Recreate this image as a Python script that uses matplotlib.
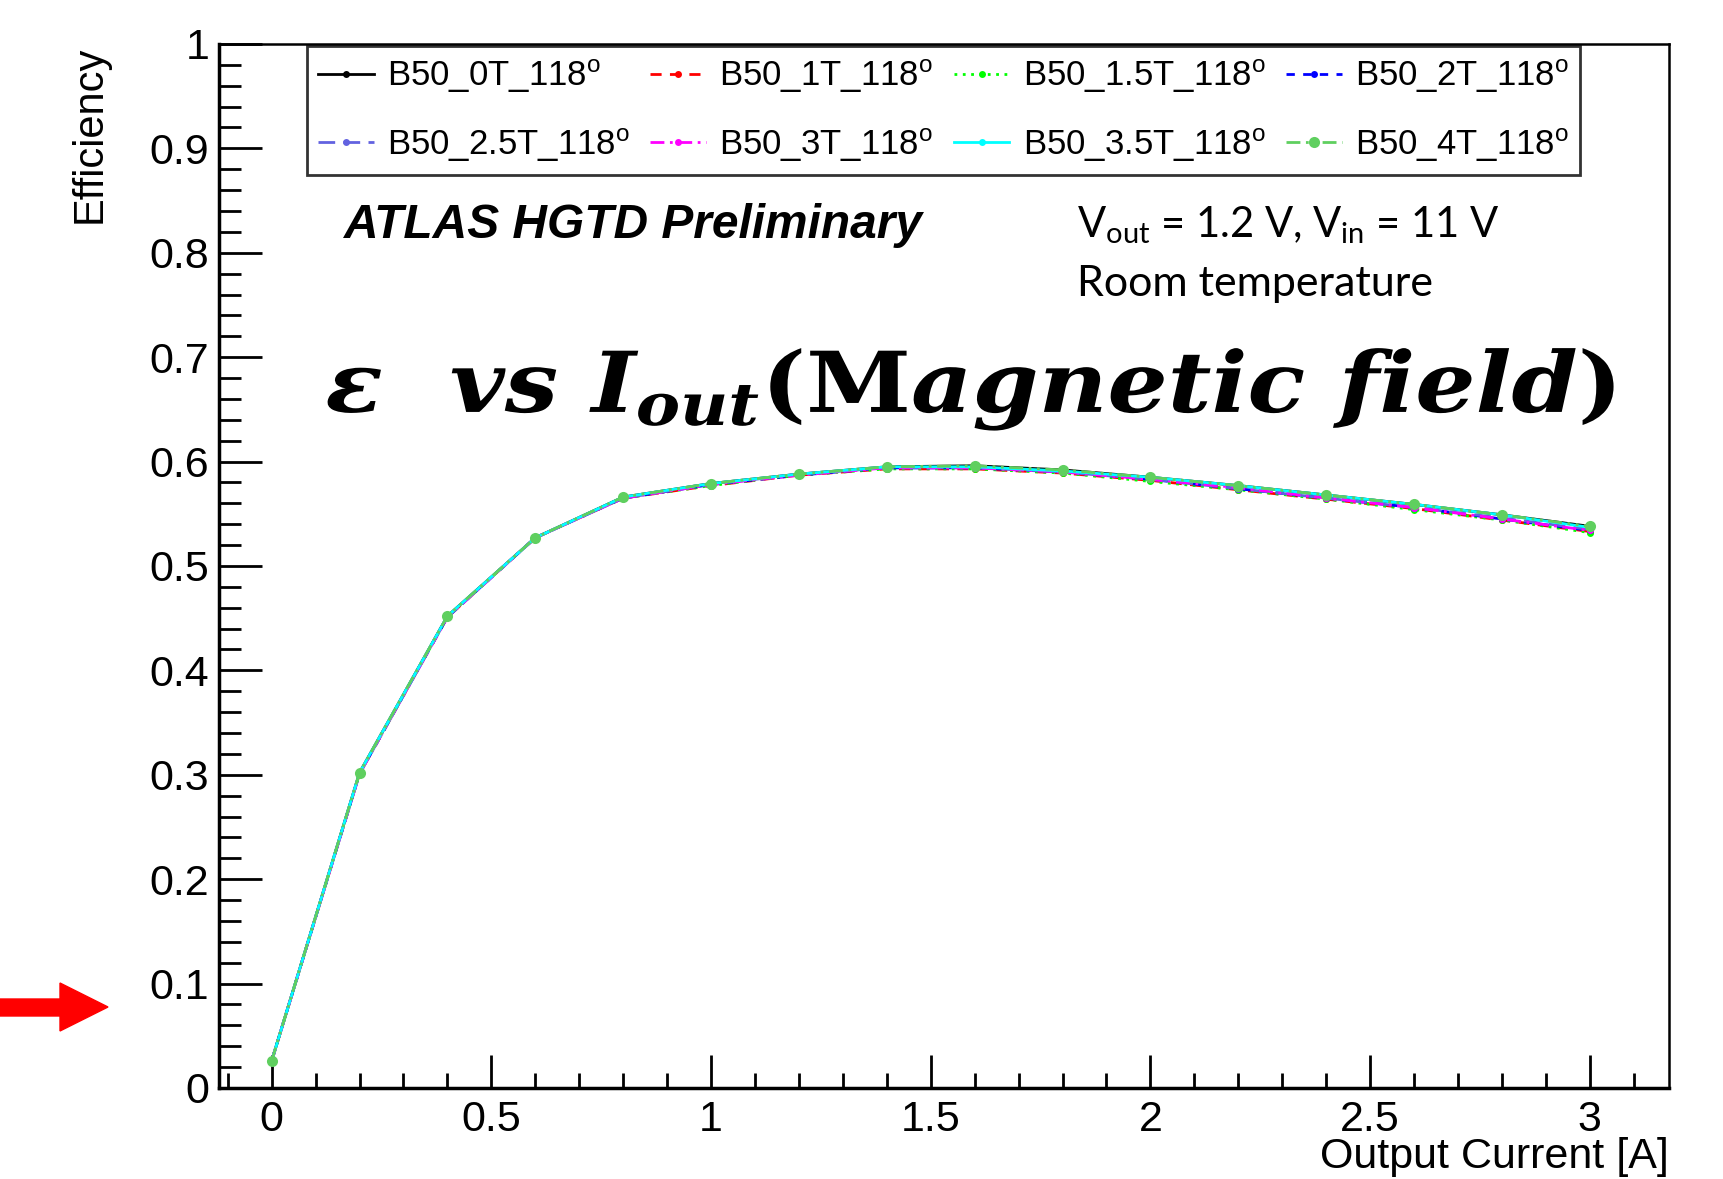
import numpy as np
import matplotlib
matplotlib.use("Agg")
import matplotlib.pyplot as plt
from matplotlib.patches import Polygon, PathPatch
from matplotlib.textpath import TextPath
from matplotlib.transforms import Affine2D
from matplotlib.ticker import MultipleLocator, FormatStrFormatter

plt.rcParams['font.family'] = ['Liberation Sans', 'DejaVu Sans']
plt.rcParams['mathtext.fontset'] = 'custom'
plt.rcParams['mathtext.rm'] = 'Lato'
plt.rcParams['mathtext.sf'] = 'Liberation Sans'
plt.rcParams['mathtext.it'] = 'DejaVu Serif:italic:bold'
plt.rcParams['mathtext.bf'] = 'DejaVu Serif:bold'

# output current [A]
current = [0.0, 0.2, 0.4, 0.6, 0.8, 1.0, 1.2, 1.4, 1.6, 1.8, 2.0, 2.2, 2.4, 2.6, 2.8, 3.0]

# efficiency per field setting
eff_0T = [0.026, 0.302, 0.452, 0.527, 0.566, 0.579, 0.588, 0.595, 0.596, 0.592, 0.585, 0.577, 0.568, 0.559, 0.549, 0.538]
eff_1T = [0.026, 0.301, 0.451, 0.527, 0.565, 0.577, 0.587, 0.593, 0.593, 0.589, 0.582, 0.573, 0.564, 0.555, 0.544, 0.533]
eff_15T = [0.026, 0.301, 0.451, 0.527, 0.565, 0.577, 0.587, 0.593, 0.593, 0.589, 0.581, 0.573, 0.564, 0.554, 0.544, 0.532]
eff_2T = [0.026, 0.301, 0.451, 0.527, 0.565, 0.578, 0.587, 0.594, 0.594, 0.590, 0.583, 0.574, 0.565, 0.556, 0.545, 0.534]
eff_25T = [0.026, 0.301, 0.451, 0.527, 0.565, 0.578, 0.588, 0.594, 0.594, 0.590, 0.583, 0.574, 0.565, 0.556, 0.546, 0.535]
eff_3T = [0.026, 0.301, 0.451, 0.527, 0.565, 0.578, 0.587, 0.594, 0.594, 0.590, 0.583, 0.575, 0.565, 0.556, 0.545, 0.534]
eff_35T = [0.026, 0.302, 0.452, 0.527, 0.566, 0.579, 0.588, 0.595, 0.595, 0.591, 0.585, 0.577, 0.568, 0.559, 0.549, 0.537]
eff_4T = [0.026, 0.302, 0.452, 0.527, 0.566, 0.579, 0.588, 0.595, 0.596, 0.592, 0.585, 0.577, 0.568, 0.559, 0.549, 0.538]

series = [
    ("B50_0T_118", eff_0T, "black", "-"),
    ("B50_1T_118", eff_1T, "#ff0000", (0, (4, 3))),
    ("B50_1.5T_118", eff_15T, "#00ff00", (0, (1, 2))),
    ("B50_2T_118", eff_2T, "#0000ff", (0, (3, 3))),
    ("B50_2.5T_118", eff_25T, "#6262e0", (0, (6, 3))),
    ("B50_3T_118", eff_3T, "#ff00ff", (0, (5, 2, 1, 2))),
    ("B50_3.5T_118", eff_35T, "#00ffff", "-"),
    ("B50_4T_118", eff_4T, "#5fcf5f", (0, (5, 2, 1, 2, 1, 2))),
]

fig = plt.figure(figsize=(17.24, 11.79), dpi=100)
ax = fig.add_axes([0.127, 0.0772, 0.841, 0.8855])

lines = []
for i, (name, vals, col, ls) in enumerate(series):
    ms = 8 if i == len(series) - 1 else 5
    ln, = ax.plot(current, vals, color=col, linestyle=ls, linewidth=2, marker='o',
                  markersize=ms, markeredgewidth=0, label=name + r'$^{\mathsf{o}}$')
    lines.append(ln)

ax.set_xlim(-0.12, 3.18)
ax.set_ylim(0, 1.0)
ax.xaxis.set_major_locator(MultipleLocator(0.5))
ax.xaxis.set_minor_locator(MultipleLocator(0.1))
ax.yaxis.set_major_locator(MultipleLocator(0.1))
ax.yaxis.set_minor_locator(MultipleLocator(0.02))
ax.xaxis.set_major_formatter(FormatStrFormatter('%g'))
ax.yaxis.set_major_formatter(FormatStrFormatter('%g'))
ax.tick_params(axis='x', which='major', direction='in', length=24, width=2, labelsize=31, pad=9, top=False)
ax.tick_params(axis='x', which='minor', direction='in', length=11, width=2, top=False)
ax.tick_params(axis='y', which='major', direction='in', length=31, width=2, labelsize=31, pad=7, right=False)
ax.tick_params(axis='y', which='minor', direction='in', length=16, width=2, right=False)
for side in ['left', 'bottom']:
    ax.spines[side].set_linewidth(2.5)
for side in ['top', 'right']:
    ax.spines[side].set_linewidth(1.8)

# legend filled row by row like the original
order = [0, 4, 1, 5, 2, 6, 3, 7]
leg = ax.legend([lines[k] for k in order], [lines[k].get_label() for k in order],
                loc='upper left', bbox_to_anchor=(0.0607, 0.998), borderaxespad=0,
                ncol=4, fontsize=25, frameon=True, fancybox=False, edgecolor='black',
                handlelength=1.6, handletextpad=0.38, columnspacing=0.6,
                borderpad=0.32, labelspacing=0.9)
leg.get_frame().set_linewidth(2)

fig.text(0.052, 0.961, 'Efficiency', rotation=90, ha='center', va='top', fontsize=30)
fig.text(0.968, 0.0187, 'Output Current [A]', ha='right', va='center', fontsize=31)

fig.text(0.1996, 0.809, 'ATLAS HGTD Preliminary', ha='left', va='center', fontsize=34.5,
         fontweight='bold', fontstyle='italic')
fig.text(0.625, 0.809, r'V$_\mathrm{out}$ = 1.2 V, V$_\mathrm{in}$ = 11 V', ha='left', va='center',
         fontsize=30, family='Lato')
fig.text(0.625, 0.759, 'Room temperature', ha='left', va='center', fontsize=31, family='Lato')

# big formula title, stretched horizontally like the Cambria Math original
tp = TextPath((0, 0), r'$\varepsilon\ \ vs\ I_{out}\mathbf{(M}agnetic\ field\mathbf{)}$', size=84)
ext = tp.get_extents()
sx = 1286 / ext.width
title_tf = Affine2D().translate(-ext.x0, 0).scale(sx / 1724, 1 / 1179).translate(0.190, 0.6506) + fig.transFigure
fig.patches.append(PathPatch(tp, transform=title_tf, facecolor='black', edgecolor='none'))

# red arrow at the left edge
arrow = Polygon([(0, 1 - 999 / 1179), (60 / 1724, 1 - 999 / 1179), (60 / 1724, 1 - 983 / 1179),
                 (108 / 1724, 1 - 1007 / 1179), (60 / 1724, 1 - 1031 / 1179),
                 (60 / 1724, 1 - 1016 / 1179), (0, 1 - 1016 / 1179)],
                closed=True, transform=fig.transFigure, color='#ff0000', clip_on=False)
fig.patches.append(arrow)

fig.savefig('out.png', dpi=100)
